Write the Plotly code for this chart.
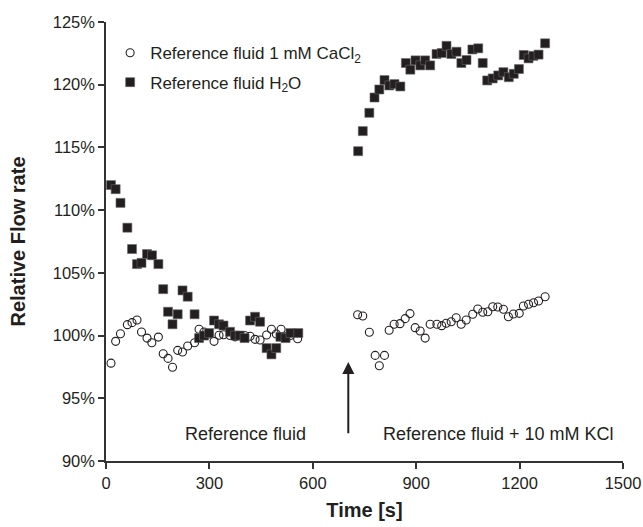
import plotly.graph_objects as go

# Reference fluid 1 mM CaCl2 (open circles)
t_cacl2 = [14.5, 28, 42, 62, 75.5, 90, 103, 119, 133, 152, 166, 180, 193, 208, 222, 237, 257,
           270, 284.5, 299, 313.5, 328, 341, 360, 374.5, 388, 402, 418, 432.5, 447, 466, 480,
           494, 508, 521, 535, 556,
           730, 745, 764, 781, 793, 808, 821.5, 836, 853, 868, 882, 897, 911.5, 926, 940.5,
           960, 974, 987, 1001.5, 1016, 1030.5, 1045, 1064, 1078.6, 1093, 1107.7, 1122,
           1136.7, 1153, 1167.5, 1182, 1199, 1211, 1226, 1240.5, 1255, 1274]
v_cacl2 = [97.8, 99.54, 100.15, 100.87, 101.03, 101.24, 100.28, 99.8, 99.43, 99.88, 98.55,
           98.18, 97.47, 98.82, 98.69, 99.17, 99.43, 100.5, 100.28, 100.12, 99.54, 100.02,
           100.07, 100.0, 99.9, 100.0, 100.0, 99.95, 99.7, 99.65, 100.05, 100.5, 100.12,
           100.5, 99.9, 100.0, 99.75,
           101.66, 101.56, 100.26, 98.42, 97.59, 98.42, 100.42, 100.9, 100.95, 101.35,
           101.75, 100.63, 100.36, 99.8, 100.9, 100.9, 100.79, 100.98, 101.1, 101.42,
           100.9, 101.24, 101.7, 102.12, 101.86, 101.9, 102.3, 102.28, 102.1, 101.5,
           101.72, 101.77, 102.36, 102.5, 102.62, 102.76, 103.1]

# Reference fluid H2O (filled squares)
t_h2o = [14.5, 28, 42, 62, 75.5, 90, 103, 119, 133.5, 152, 166, 180, 193, 208, 222, 237, 257,
         270, 284.5, 299, 313.5, 328, 341, 360, 374.5, 388, 402, 418, 432.5, 447, 466, 480,
         494, 506, 521, 535, 558,
         731.5, 745, 764, 779, 793, 808, 822, 837, 854, 870, 883, 898, 912, 926, 940.5,
         959, 974, 988, 1002, 1017, 1031, 1046, 1063, 1080, 1093, 1106, 1122, 1138, 1153,
         1168.6, 1183, 1198, 1212, 1226, 1240, 1255, 1274]
v_h2o = [112.0, 111.67, 110.58, 108.6, 106.9, 105.7, 105.8, 106.5, 106.4, 105.7, 103.7,
         101.9, 100.9, 101.7, 103.6, 103.1, 101.7, 99.8, 100.0, 100.2, 101.2, 100.9, 100.8,
         100.3, 100.0, 100.0, 99.8, 101.2, 101.5, 101.1, 99.0, 98.5, 99.0, 99.9, 99.8,
         100.2, 100.2,
         114.7, 116.3, 117.76, 118.98, 119.62, 120.37, 119.94, 120.05, 119.86, 121.73,
         121.2, 121.94, 121.54, 121.94, 121.54, 122.45, 122.53, 123.1, 122.45, 122.63,
         121.73, 121.97, 122.81, 122.9, 121.73, 120.34, 120.5, 120.74, 121.0, 120.6,
         120.87, 121.25, 122.37, 122.1, 122.3, 122.4, 123.3]

x_ticks = [0, 300, 600, 900, 1200, 1500]
y_ticks = [90, 95, 100, 105, 110, 115, 120, 125]

ink = "#231f20"
font = "Liberation Sans, Arial, sans-serif"

fig = go.Figure()
fig.add_trace(go.Scatter(
    x=t_cacl2, y=v_cacl2, mode="markers", name="Reference fluid 1 mM CaCl<sub>2</sub>",
    marker=dict(symbol="circle-open", size=8, color=ink, line=dict(width=1.1, color=ink)),
    legend="legend"))
fig.add_trace(go.Scatter(
    x=t_h2o, y=v_h2o, mode="markers", name="Reference fluid H<sub>2</sub>O",
    marker=dict(symbol="square", size=9, color=ink, line=dict(width=0.6, color="#666")),
    legend="legend2"))

axis_common = dict(showline=True, linecolor="#333", linewidth=1.5, ticks="outside",
                   ticklen=6, tickwidth=1.5, tickcolor="#333", showgrid=False,
                   zeroline=False, automargin=False,
                   tickfont=dict(size=16.5, color=ink, family=font))

fig.update_layout(
    width=643, height=527,
    margin=dict(l=106, r=20, t=22, b=66),
    paper_bgcolor="white", plot_bgcolor="white",
    font=dict(family=font, color=ink, size=16),
    xaxis=dict(range=[0, 1500], tickvals=x_ticks, ticktext=[str(v) for v in x_ticks],
               title=dict(text="<b>Time [s]</b>", font=dict(size=20), standoff=12),
               **axis_common),
    yaxis=dict(range=[90, 125], tickvals=y_ticks, ticktext=[f"{v}%" for v in y_ticks],
               title=dict(text="<b>Relative Flow rate</b>", font=dict(size=20), standoff=22),
               **axis_common),
    legend=dict(x=0.008, y=0.929, xanchor="left", yanchor="middle", bgcolor="rgba(0,0,0,0)",
                font=dict(size=17, color=ink)),
    legend2=dict(x=0.008, y=0.862, xanchor="left", yanchor="middle", bgcolor="rgba(0,0,0,0)",
                 font=dict(size=17, color=ink)),
    showlegend=True,
)

fig.add_annotation(x=404, y=92.14, xref="x", yref="y", text="Reference fluid",
                   showarrow=False, font=dict(size=18, color=ink))
fig.add_annotation(x=1139, y=92.14, xref="x", yref="y", text="Reference fluid + 10 mM KCl",
                   showarrow=False, font=dict(size=18, color=ink))
fig.add_annotation(x=703, y=97.9, ax=703, ay=92.1, xref="x", yref="y", axref="x", ayref="y",
                   text="", showarrow=True, arrowhead=2, arrowsize=1.2, arrowwidth=2,
                   arrowcolor=ink)

# remove the default page margin so the 643x527 figure fills the window exactly
fig.write_html("out.html",
               config={"displayModeBar": False},
               post_script="document.body.style.margin='0';document.body.style.overflow='hidden';")
